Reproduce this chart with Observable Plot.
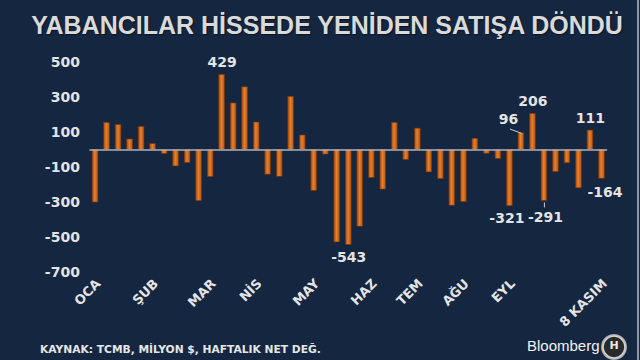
<!DOCTYPE html>
<html>
<head>
<meta charset="utf-8">
<script src="https://cdn.jsdelivr.net/npm/d3@7"></script>
<script src="https://cdn.jsdelivr.net/npm/@observablehq/plot@0.6"></script>
<style>
  html, body { margin: 0; padding: 0; background: #152641; }
  #chart { position: relative; width: 640px; height: 360px; background: #152641; overflow: hidden; }
  #title { position: absolute; left: 7px; top: 11px; width: 640px; text-align: center;
           font: bold 25px "Liberation Sans", Arial, sans-serif; line-height: 28px; color: #dadada;
           text-shadow: 1px 1px 1px rgba(0,0,0,0.5); white-space: nowrap; }
  #plot { position: absolute; left: 0; top: 40px; }
  #source { position: absolute; left: 40px; top: 343px; font: bold 10.7px "DejaVu Sans", sans-serif;
            line-height: 13px; color: #e6e6e6; white-space: nowrap; }
  #brand { position: absolute; left: 527px; top: 337px; font: 15px "Liberation Sans", Arial, sans-serif;
           line-height: 18px; color: #f2f2f2; }
  #logo { position: absolute; left: 601px; top: 334px; width: 26px; height: 26px; border-radius: 50%;
          background: radial-gradient(circle, #2a2a2a 0 52%, #d8d8d8 58%, #8a8a8a 75%, #e8e8e8 100%); }
  #logo span { position: absolute; left: 0; top: 5px; width: 26px; text-align: center; color: #e8e8e8;
               font: bold 11px "DejaVu Sans", sans-serif; line-height: 13px; }
  #edge { position: absolute; left: 637px; top: 0; width: 2px; height: 360px; background: #8d96a6; }
</style>
</head>
<body>
<div id="chart">
  <div id="title">YABANCILAR HİSSEDE YENİDEN SATIŞA DÖNDÜ</div>
  <div id="plot"></div>
  <div id="source">KAYNAK: TCMB, MİLYON $, HAFTALIK NET DEĞ.</div>
  <div id="brand">Bloomberg</div>
  <div id="logo"><span>H</span></div>
  <div id="edge"></div>
</div>
<script>
// Weekly net foreign flows into Turkish equities (million $), January – 8 November
const weeks = d3.range(1, 46);
const flows = [-300, 155, 143, 60, 132, 34, -23, -94, -74, -292, -155, 429, 266, 358, 157,
               -141, -153, 304, 83, -234, -26, -528, -543, -438, -160, -226, 155, -57, 122, -128,
               -166, -318, -298, 64, -21, -51, -321, 96, 206, -291, -126, -76, -219, 111, -164];
const monthTicks = [1, 6, 11, 15, 20, 25, 29, 33, 37, 45];
const monthLabels = ["OCA", "ŞUB", "MAR", "NİS", "MAY", "HAZ", "TEM", "AĞU", "EYL", "8 KASIM"];
const yTicks = [500, 300, 100, -100, -300, -500, -700];
const calloutWeeks = [12, 23, 37, 38, 39, 40, 44, 45];
const calloutText = ["429", "-543", "-321", "96", "206", "-291", "111", "-164"];

const data = weeks.map((w, i) => ({week: w, value: flows[i]}));
const callouts = calloutWeeks.map((w, i) => ({week: w, value: flows[w - 1], text: calloutText[i]}));
// label offsets in pixels (style, not data)
const offsets = {12: [0, -12.5], 23: [0, 12.5], 37: [-3, 12.3], 38: [-13, -13.7],
                 39: [0, -12.5], 40: [1, 16.3], 44: [0, -12], 45: [3, 13.8]};
const leaders = [
  {x1: 37, y1: 120, x2: 38, y2: 96},
  {x1: 40, y1: -300, x2: 40, y2: -328}
];

const textColor = "#e4e4e4";
const chart = Plot.plot({
  width: 640,
  height: 300,
  marginLeft: 86.4,
  marginRight: 29.9,
  marginTop: 22,
  marginBottom: 68,
  style: {background: "transparent", color: textColor, fontFamily: "DejaVu Sans, sans-serif"},
  x: {type: "band", domain: weeks, padding: 0.5, round: false, axis: null},
  y: {domain: [-700, 500], axis: null},
  marks: [
    Plot.axisY({ticks: yTicks, tickSize: 0, tickPadding: 7, tickFormat: d => String(d),
                fontSize: 14, fontWeight: "bold", fill: textColor, label: null}),
    Plot.axisX({ticks: monthTicks, tickFormat: d => monthLabels[monthTicks.indexOf(d)],
                tickRotate: -45, tickSize: 0, tickPadding: 9, dx: 3,
                fontSize: 13, fontWeight: "bold", fill: textColor, label: null}),
    Plot.barY(data, {x: "week", y: "value", fill: "url(#barGrad)", stroke: "#7a3608", strokeWidth: 0.6}),
    Plot.ruleY([0], {stroke: "#aab2c0", strokeWidth: 1.5, insetLeft: 3, insetRight: 3}),
    Plot.link(leaders, {x1: "x1", y1: "y1", x2: "x2", y2: "y2", stroke: "#c8ccd4", strokeWidth: 1}),
    ...callouts.map(c => Plot.text([c], {
      x: "week", y: "value", text: "text",
      dx: offsets[c.week][0], dy: offsets[c.week][1],
      fontSize: 14, fontWeight: "bold", fill: textColor, lineAnchor: "middle"
    }))
  ]
});

const defs = d3.select(chart).insert("defs", ":first-child");
const grad = defs.append("linearGradient").attr("id", "barGrad")
  .attr("x1", 0).attr("x2", 1).attr("y1", 0).attr("y2", 0);
grad.append("stop").attr("offset", "0%").attr("stop-color", "#a84a0e");
grad.append("stop").attr("offset", "45%").attr("stop-color", "#e5802f");
grad.append("stop").attr("offset", "100%").attr("stop-color", "#b5540f");

document.getElementById("plot").appendChild(chart);
</script>
</body>
</html>
